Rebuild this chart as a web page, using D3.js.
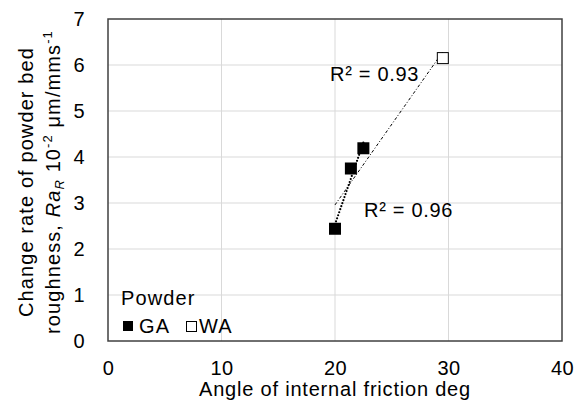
<!DOCTYPE html>
<html>
<head>
<meta charset="utf-8">
<script src="https://cdn.jsdelivr.net/npm/d3@7"></script>
<style>
  html, body { margin: 0; padding: 0; background: #fff; }
  svg { display: block; font-family: Arial, "Liberation Sans", sans-serif; }
  .lbl { font-size: 20px; letter-spacing: 1.1px; fill: #000; }
</style>
</head>
<body>
<svg id="chart" width="580" height="405"></svg>
<script>
// Angle of internal friction (deg) vs change rate of powder bed roughness
const gaAngle = [20.0, 21.4, 22.5];
const gaRate = [2.44, 3.75, 4.19];
const waAngle = [29.5];
const waRate = [6.15];
const xTicks = [0, 10, 20, 30, 40];
const yTicks = [0, 1, 2, 3, 4, 5, 6, 7];
const gaR2Label = "R² = 0.96";
const allR2Label = "R² = 0.93";

const svg = d3.select("#chart");
const margin = { left: 108, right: 18, top: 19, bottom: 64 };
const W = 580, H = 405;

const x = d3.scaleLinear().domain([0, 40]).range([margin.left, W - margin.right]);
const y = d3.scaleLinear().domain([0, 7]).range([H - margin.bottom, margin.top]);

// grid
svg.append("g").selectAll("line").data(xTicks.slice(1, -1)).join("line")
  .attr("x1", d => x(d)).attr("x2", d => x(d))
  .attr("y1", y(0)).attr("y2", y(7))
  .attr("stroke", "#d9d9d9").attr("stroke-width", 1);
svg.append("g").selectAll("line").data(yTicks.slice(1, -1)).join("line")
  .attr("x1", x(0)).attr("x2", x(40))
  .attr("y1", d => y(d)).attr("y2", d => y(d))
  .attr("stroke", "#d9d9d9").attr("stroke-width", 1);

// axes (labels only; frame drawn separately)
const xAxis = svg.append("g").attr("transform", `translate(0,${y(0)})`)
  .call(d3.axisBottom(x).tickValues(xTicks).tickFormat(d3.format("d")).tickSize(0).tickPadding(20));
const yAxis = svg.append("g").attr("transform", `translate(${x(0)},0)`)
  .call(d3.axisLeft(y).tickValues(yTicks).tickFormat(d3.format("d")).tickSize(0).tickPadding(23));
[xAxis, yAxis].forEach(a => {
  a.select(".domain").remove();
  a.selectAll("text").attr("font-size", 20).attr("fill", "#000")
    .attr("font-family", "Arial, 'Liberation Sans', sans-serif")
    .style("letter-spacing", "0.5px");
});

// plot frame
svg.append("rect")
  .attr("x", x(0)).attr("y", y(7))
  .attr("width", x(40) - x(0)).attr("height", y(0) - y(7))
  .attr("fill", "none").attr("stroke", "#404040").attr("stroke-width", 1.5);

// least-squares trendline
function fit(xs, ys) {
  const n = xs.length;
  const mx = d3.mean(xs), my = d3.mean(ys);
  let sxy = 0, sxx = 0;
  for (let i = 0; i < n; i++) { sxy += (xs[i] - mx) * (ys[i] - my); sxx += (xs[i] - mx) ** 2; }
  const b = sxy / sxx, a = my - b * mx;
  return [d3.min(xs), d3.max(xs)].map(v => [v, a + b * v]);
}
const line = d3.line().x(d => x(d[0])).y(d => y(d[1]));

const allX = gaAngle.concat(waAngle), allY = gaRate.concat(waRate);
svg.append("path").attr("d", line(fit(allX, allY)))
  .attr("fill", "none").attr("stroke", "#000").attr("stroke-width", 1)
  .attr("stroke-dasharray", "3,2,1,2");
svg.append("path").attr("d", line(fit(gaAngle, gaRate)))
  .attr("fill", "none").attr("stroke", "#000").attr("stroke-width", 2.2)
  .attr("stroke-linecap", "round").attr("stroke-dasharray", "0,3.2");

// markers
const ms = 12;
svg.append("g").selectAll("rect").data(d3.zip(gaAngle, gaRate)).join("rect")
  .attr("x", d => x(d[0]) - ms / 2).attr("y", d => y(d[1]) - ms / 2)
  .attr("width", ms).attr("height", ms).attr("fill", "#000");
svg.append("g").selectAll("rect").data(d3.zip(waAngle, waRate)).join("rect")
  .attr("x", d => x(d[0]) - ms / 2 + 0.5).attr("y", d => y(d[1]) - ms / 2 + 0.5)
  .attr("width", ms - 1).attr("height", ms - 1)
  .attr("fill", "#fff").attr("stroke", "#000").attr("stroke-width", 1);

// R² labels
svg.append("text").attr("class", "lbl").attr("x", 330).attr("y", 81).style("letter-spacing", "0.7px").text(allR2Label);
svg.append("text").attr("class", "lbl").attr("x", 364).attr("y", 217).style("letter-spacing", "0.7px").text(gaR2Label);

// axis titles
svg.append("text").attr("class", "lbl").attr("x", (x(0) + x(40)) / 2).attr("y", 396)
  .attr("text-anchor", "middle").style("letter-spacing", "0.8px").text("Angle of internal friction deg");

const yt = svg.append("text").attr("class", "lbl").attr("transform", "translate(0,182) rotate(-90)")
  .attr("text-anchor", "middle");
yt.append("tspan").attr("x", 0).attr("y", 33).text("Change rate of powder bed");
const l2 = yt.append("tspan").attr("x", 0).attr("y", 60);
l2.append("tspan").text("roughness,  ");
l2.append("tspan").attr("font-style", "italic").text("Ra");
l2.append("tspan").attr("font-style", "italic").attr("font-size", 13).attr("dy", 4).text("R");
l2.append("tspan").attr("dy", -4).text("  10");
l2.append("tspan").attr("font-size", 13).attr("dy", -8).text("-2");
l2.append("tspan").attr("dy", 8).text(" μm/mms");
l2.append("tspan").attr("font-size", 13).attr("dy", -8).text("-1");

// legend
svg.append("text").attr("class", "lbl").attr("x", 121).attr("y", 305).text("Powder");
svg.append("rect").attr("x", 123).attr("y", 321).attr("width", 10).attr("height", 10).attr("fill", "#000");
svg.append("text").attr("class", "lbl").attr("x", 139).attr("y", 333).text("GA");
svg.append("rect").attr("x", 186.5).attr("y", 321.5).attr("width", 10).attr("height", 10)
  .attr("fill", "#fff").attr("stroke", "#000").attr("stroke-width", 1);
svg.append("text").attr("class", "lbl").attr("x", 199).attr("y", 333).text("WA");
</script>
</body>
</html>
